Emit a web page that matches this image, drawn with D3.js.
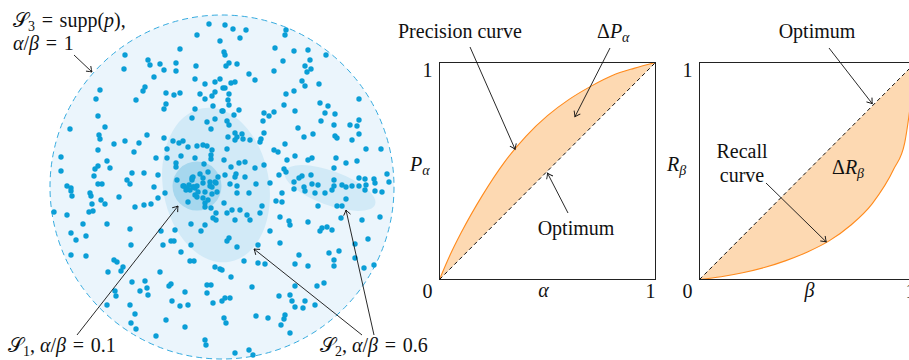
<!DOCTYPE html>
<html>
<head>
<meta charset="utf-8">
<style>
  body { margin: 0; background: #fff; }
  text { font-family: "Liberation Serif", "DejaVu Serif", serif; font-size: 20px; fill: #111; }
</style>
</head>
<body>
<div id="canvas"></div>
<script src="https://cdn.jsdelivr.net/npm/d3@7"></script>
<script>
// ---- data ----
// samples drawn in the support, centred on the support's centre (y up)
var ptsNW = [[-13,163],[-25,152],[-2,146],[-42,138],[-97,132],[-74,127],[-72,122],[-62,123],[-58,117],[-46,124],[-46,116],[-26,121],[-98,118],[-27,108],[-68,110],[-17,103],[-7,105],[-2,108],[1,99],[-122,97],[-126,88],[-77,100],[-79,96],[-56,94],[-48,92],[-42,94],[-86,87],[-22,93],[-17,88],[-10,91],[-7,95],[-56,83],[-58,78],[-27,78],[-9,81],[0,76],[-124,71],[-30,69],[-15,65],[-7,68],[-117,60],[-11,58],[-152,58],[-123,52],[-122,48],[-75,52],[-58,49],[-49,46],[-43,44],[-39,46],[-34,40],[-97,46],[-108,43],[-124,37],[-88,35],[-83,44],[-55,38],[-25,41],[-19,42],[-15,41],[-10,37],[-11,32],[-11,28],[-161,30],[-27,29],[-41,31],[-66,29],[-55,29],[-115,26],[-46,24],[-46,20],[-18,23],[-161,16],[-127,18],[-124,21],[-112,19],[-128,11],[-90,14],[-78,14],[-64,12],[-30,9],[-19,9],[-124,3],[-120,3],[-95,7],[-92,3],[-68,0],[-155,1],[-151,-1],[-38,1],[-33,2],[-28,0],[-12,1],[-6,4]];
var ptsCore = [[-45,7],[-39,1],[-35,-1],[-30,7],[-29,10],[-27,-1],[-25,1],[-22,13],[-19,4],[-17,-5],[-14,15],[-12,5],[-10,0],[-10,-7],[-7,5],[-5,-5],[-4,10],[-34,-15],[-25,-10],[-19,-11],[-14,-13],[-17,-20],[-29,0],[-32,-3],[-24,-5]];
var ptsNE = [[3,162],[11,158],[24,157],[18,149],[64,157],[63,152],[53,139],[72,136],[86,137],[104,132],[88,127],[83,121],[89,118],[85,115],[61,126],[52,116],[27,113],[33,107],[15,123],[7,124],[4,121],[2,135],[3,132],[13,105],[9,104],[80,106],[83,101],[97,103],[72,96],[64,93],[62,82],[73,76],[98,84],[106,81],[137,88],[103,74],[113,73],[99,66],[112,62],[128,62],[137,67],[135,61],[137,53],[130,47],[113,51],[115,49],[144,38],[159,38],[82,50],[91,53],[76,59],[42,74],[47,71],[52,75],[41,66],[42,54],[39,48],[38,45],[28,47],[52,37],[56,35],[63,43],[65,27],[73,31],[86,27],[90,29],[114,29],[112,19],[124,24],[135,26],[3,99],[7,93],[6,87],[7,82],[1,76],[17,77],[12,72],[5,66],[7,62],[13,54],[20,53],[21,48],[15,50],[13,47],[6,50],[5,38],[2,27],[17,24],[23,25],[9,20],[33,19],[42,22],[14,13],[23,10],[13,10],[3,12],[8,3],[15,1],[34,3],[48,4],[57,12],[62,18],[64,15],[72,5],[77,9],[80,11],[89,12],[96,2],[90,3],[82,0],[112,7],[112,1],[120,2],[124,0],[130,1],[137,9],[143,8],[137,1],[144,2],[152,8],[153,4],[165,13],[167,5]];
var ptsSW = [[-151,-4],[-150,-9],[-132,-6],[-131,-9],[-130,-17],[-121,-13],[-117,-17],[-103,-10],[-168,-25],[-155,-28],[-133,-25],[-129,-24],[-87,-20],[-78,-18],[-71,-17],[-64,-11],[-57,-6],[-115,-37],[-139,-37],[-151,-46],[-146,-53],[-136,-49],[-92,-42],[-91,-58],[-61,-44],[-59,-58],[-51,-54],[-48,-54],[-47,-43],[-41,-65],[-31,-37],[-31,-58],[-21,-44],[-17,-38],[-9,-31],[-6,-33],[-151,-68],[-136,-69],[-108,-73],[-105,-75],[-99,-80],[-101,-84],[-114,-85],[-62,-85],[-90,-95],[-77,-94],[-75,-101],[-82,-104],[-74,-108],[-107,-104],[-106,-109],[-115,-118],[-92,-118],[-87,-127],[-91,-136],[-86,-142],[-53,-99],[-51,-97],[-37,-105],[-50,-114],[-42,-119],[-34,-118],[-56,-133],[-37,-140],[-66,-149],[-17,-153],[-16,-158],[-15,-98],[-11,-98],[-15,-106],[-9,-116],[0,-114],[-7,-80],[-2,-82],[-28,-74],[-32,-74],[-36,-3],[-27,-8],[-17,-16],[-11,-21],[-6,-26]];
var ptsSE = [[15,-6],[27,-6],[60,-6],[72,-2],[83,-4],[93,-6],[103,-6],[110,-3],[143,-3],[153,-4],[160,-5],[54,-14],[60,-15],[115,-19],[120,-19],[124,-12],[96,-19],[2,-16],[5,-26],[10,-23],[18,-23],[25,-28],[28,-33],[13,-33],[40,-19],[38,-26],[58,-30],[67,-34],[68,-38],[86,-35],[98,-44],[100,-41],[105,-40],[110,-43],[119,-31],[140,-33],[158,-30],[146,-52],[133,-57],[117,-64],[107,-66],[112,-73],[112,-79],[133,-71],[142,-81],[152,-78],[7,-51],[5,-54],[15,-60],[36,-58],[48,-44],[58,-56],[77,-68],[73,-77],[86,-79],[36,-76],[43,-77],[22,-74],[0,-83],[9,-90],[30,-100],[73,-99],[95,-99],[102,-96],[57,-109],[68,-108],[70,-114],[83,-114],[73,-120],[81,-121],[93,-118],[3,-111],[8,-111],[2,-131],[4,-136],[34,-129],[46,-131],[63,-128],[62,-132],[59,-138],[68,-146],[13,-166],[27,-163],[31,-168]];

// regions: [cx, cy, rx, ry, rotation]
var supportRadius = 172;
var regionS2 = [[-6, 2, 53, 78, -10], [108, -1, 48, 17, 20]];
var regionS1 = [[-25, 1, 24.5, 24.5, 0]];

// precision / recall curves
var alphaVals = [0, 0.05, 0.1, 0.2, 0.3, 0.4, 0.5, 0.6, 0.7, 0.8, 0.9, 1];
var precVals  = [0, 0.115, 0.215, 0.39, 0.54, 0.66, 0.755, 0.83, 0.89, 0.94, 0.973, 1];
var betaVals  = [0, 0.1, 0.2, 0.3, 0.4, 0.5, 0.6, 0.7, 0.8, 0.9, 0.95, 1];
var recVals   = [0, 0.013, 0.031, 0.055, 0.087, 0.127, 0.178, 0.25, 0.35, 0.51, 0.63, 1];
var tickLabels = ["0", "1"];

// ---- drawing ----
var svg = d3.select("#canvas").append("svg")
    .attr("width", 909).attr("height", 360);

var defs = svg.append("defs");
defs.append("marker").attr("id", "arr")
    .attr("viewBox", "-6 -5 8 10").attr("refX", 0).attr("refY", 0)
    .attr("markerWidth", 8).attr("markerHeight", 10)
    .attr("markerUnits", "userSpaceOnUse").attr("orient", "auto")
  .append("path")
    .attr("d", "M-5,-3.5 Q-1.5,-0.8 0,0 Q-1.5,0.8 -5,3.5")
    .attr("fill", "none").attr("stroke", "#111").attr("stroke-width", 0.9);

var arrow = function (x1, y1, x2, y2) {
    svg.append("line")
        .attr("x1", x1).attr("y1", y1).attr("x2", x2).attr("y2", y2)
        .attr("stroke", "#111").attr("stroke-width", 0.9)
        .attr("marker-end", "url(#arr)");
};

// text with italic parts and subscripts
var mathText = function (x, y, parts, anchor) {
    var t = svg.append("text").attr("x", x).attr("y", y)
        .attr("text-anchor", anchor || "start");
    var wasSub = false;
    parts.forEach(function (p) {
        var s = t.append("tspan").text(p.t);
        if (p.i) s.attr("font-style", "italic");
        if (p.sub) {
            s.attr("font-size", "14px").attr("dy", wasSub ? 0 : 4);
        } else if (wasSub) {
            s.attr("dy", -4);
        }
        wasSub = !!p.sub;
    });
    return t;
};
var EQ = "\u2004=\u2004";

// left: the support and two subsets
var xs = d3.scaleLinear().domain([-supportRadius, supportRadius]).range([50, 394]);
var ys = d3.scaleLinear().domain([-supportRadius, supportRadius]).range([359, 15]);
var rad = function (v) { return xs(v) - xs(0); };

svg.append("circle")
    .attr("cx", xs(0)).attr("cy", ys(0)).attr("r", rad(supportRadius))
    .attr("fill", "#ebf5fc").attr("stroke", "#36abdf")
    .attr("stroke-width", 1).attr("stroke-dasharray", "6,4");

var drawRegion = function (data, fill) {
    svg.selectAll(null).data(data).enter().append("ellipse")
        .attr("cx", 0).attr("cy", 0)
        .attr("rx", function (d) { return rad(d[2]); })
        .attr("ry", function (d) { return rad(d[3]); })
        .attr("transform", function (d) {
            return "translate(" + xs(d[0]) + "," + ys(d[1]) + ") rotate(" + d[4] + ")";
        })
        .attr("fill", fill);
};
drawRegion(regionS2, "#d2eaf7");
drawRegion(regionS1, "#a6d7ee");

var allPts = ptsNW.concat(ptsCore, ptsNE, ptsSW, ptsSE);
svg.selectAll("circle.pt").data(allPts).enter().append("circle")
    .attr("class", "pt")
    .attr("cx", function (d) { return xs(d[0]); })
    .attr("cy", function (d) { return ys(d[1]); })
    .attr("r", 2.7)
    .attr("fill", "#0a9ed6");

mathText(13, 27, [{t: "\u{1D4AE}"}, {t: "3", sub: true}, {t: EQ + "supp("}, {t: "p", i: true}, {t: "),"}]);
mathText(13, 50, [{t: "\u03B1", i: true}, {t: "/"}, {t: "\u03B2", i: true}, {t: EQ + "1"}]);
arrow(74, 55, 92, 72);

mathText(8, 352, [{t: "\u{1D4AE}"}, {t: "1", sub: true}, {t: ", "}, {t: "\u03B1", i: true}, {t: "/"}, {t: "\u03B2", i: true}, {t: EQ + "0.1"}]);
arrow(77, 335, xs(-44), ys(-19));

mathText(320, 352, [{t: "\u{1D4AE}"}, {t: "2", sub: true}, {t: ", "}, {t: "\u03B1", i: true}, {t: "/"}, {t: "\u03B2", i: true}, {t: EQ + "0.6"}]);
arrow(362, 335, xs(32), ys(-62));
arrow(374, 335, xs(124), ys(-23));

// precision / recall panels
var panel = function (x0, curveX, curveY) {
    var px = d3.scaleLinear().domain([0, 1]).range([x0 + 0.5, x0 + 216.5]);
    var py = d3.scaleLinear().domain([0, 1]).range([279.5, 62.5]);
    var pts = curveX.map(function (v, i) { return [v, curveY[i]]; });

    svg.append("path").datum(pts)
        .attr("d", d3.area()
            .x(function (d) { return px(d[0]); })
            .y0(function (d) { return py(d[0]); })
            .y1(function (d) { return py(d[1]); })
            .curve(d3.curveMonotoneX))
        .attr("fill", "#fdd9b2");
    svg.append("path").datum(pts)
        .attr("d", d3.line()
            .x(function (d) { return px(d[0]); })
            .y(function (d) { return py(d[1]); })
            .curve(d3.curveMonotoneX))
        .attr("fill", "none").attr("stroke", "#ff8a1c").attr("stroke-width", 1.1);
    svg.append("line")
        .attr("x1", px(0)).attr("y1", py(0)).attr("x2", px(1)).attr("y2", py(1))
        .attr("stroke", "#111").attr("stroke-width", 1).attr("stroke-dasharray", "4,3");
    svg.append("rect")
        .attr("x", px(0)).attr("y", py(1))
        .attr("width", px(1) - px(0)).attr("height", py(0) - py(1))
        .attr("fill", "none").attr("stroke", "#222").attr("stroke-width", 1);

    svg.append("text").attr("x", px(0) - 12).attr("y", py(1) + 14)
        .attr("text-anchor", "middle").text(tickLabels[1]);
    svg.append("text").attr("x", px(0) - 12).attr("y", py(0) + 18)
        .attr("text-anchor", "middle").text(tickLabels[0]);
    svg.append("text").attr("x", px(1) - 5).attr("y", py(0) + 18)
        .attr("text-anchor", "middle").text(tickLabels[1]);
    return {x: px, y: py};
};

var pp = panel(439, alphaVals, precVals);
mathText(pp.x(0.5) - 4, 297, [{t: "\u03B1", i: true}], "middle");
mathText(410, 171, [{t: "P", i: true}, {t: "\u03B1", i: true, sub: true}]);
svg.append("text").attr("x", 398).attr("y", 38).text("Precision curve");
arrow(470, 47, pp.x(0.35), pp.y(0.6));
mathText(597, 38, [{t: "\u0394"}, {t: "P", i: true}, {t: "\u03B1", i: true, sub: true}]);
arrow(610, 48, pp.x(0.627), pp.y(0.75));
svg.append("text").attr("x", 576).attr("y", 235).attr("text-anchor", "middle").text("Optimum");
arrow(568, 213, pp.x(0.5), pp.y(0.49));

var rp = panel(699, betaVals, recVals);
mathText(rp.x(0.5) + 2, 297, [{t: "\u03B2", i: true}], "middle");
mathText(667, 171, [{t: "R", i: true}, {t: "\u03B2", i: true, sub: true}]);
svg.append("text").attr("x", 817).attr("y", 38).attr("text-anchor", "middle").text("Optimum");
arrow(829, 48, rp.x(0.8), rp.y(0.81));
svg.append("text").attr("x", 742).attr("y", 158).attr("text-anchor", "middle").text("Recall");
svg.append("text").attr("x", 742).attr("y", 182).attr("text-anchor", "middle").text("curve");
arrow(766, 183, rp.x(0.587), rp.y(0.173));
mathText(832, 174, [{t: "\u0394"}, {t: "R", i: true}, {t: "\u03B2", i: true, sub: true}]);
</script>
</body>
</html>
